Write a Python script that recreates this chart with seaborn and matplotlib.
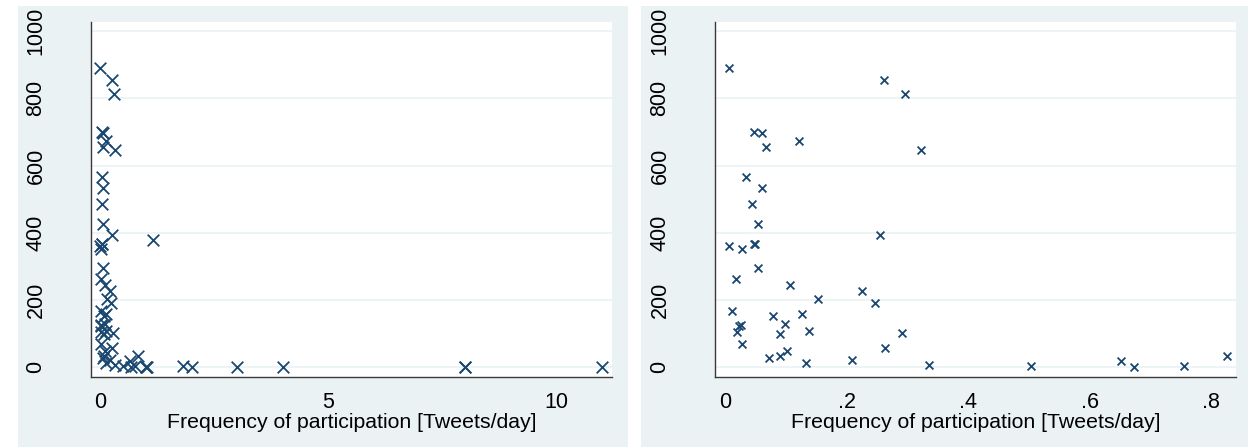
import matplotlib
matplotlib.use("Agg")
import numpy as np
import pandas as pd
import seaborn as sns
import matplotlib.pyplot as plt
from matplotlib.patches import Rectangle
from matplotlib.ticker import FixedLocator, FixedFormatter

# Frequency of participation [Tweets/day] and the plotted value (same observations in both panels;
# the right panel shows only the observations with frequency below 1)
freq = [0.0066, 0.262, 0.2955, 0.0477, 0.0614, 0.068, 0.1217, 0.322, 0.0345, 0.0614,
        0.045, 0.0537, 0.0071, 0.028, 0.048, 0.049, 0.0537, 0.2555, 0.018, 0.1064,
        0.1535, 0.2258, 0.2473, 0.011, 0.0795, 0.127, 0.0236, 0.026, 0.019, 0.098,
        0.091, 0.1387, 0.2906, 0.0285, 0.264, 0.0718, 0.091, 0.1025, 0.134, 0.209,
        0.336, 0.503, 0.652, 0.672, 0.755, 0.825,
        1.155, 1.0, 1.0, 1.02, 1.81, 2.02, 3.0, 4.0, 8.0, 8.0, 11.0]
value = [890, 853, 814, 700, 696, 656, 674, 646, 566, 533,
         486, 425, 360, 353, 366, 368, 295, 393, 262, 246,
         202, 228, 190, 166, 151, 157, 122, 126, 105, 130,
         98, 107, 103, 69, 57, 29, 32, 48, 14, 23,
         6, 3, 18, 2, 3, 32,
         380, 0, 2, 0, 4, 0, 0, 0, 0, 1, 1]

left_xticks = [0, 5, 10]
left_xlabels = ["0", "5", "10"]
right_xticks = [0, 0.2, 0.4, 0.6, 0.8]
right_xlabels = ["0", ".2", ".4", ".6", ".8"]
yticks = [0, 200, 400, 600, 800, 1000]
ylabels = ["0", "200", "400", "600", "800", "1000"]
xlabel = "Frequency of participation [Tweets/day]"

sns.set_theme(style="white")
plt.rcParams["font.family"] = ["Liberation Sans", "DejaVu Sans"]

df = pd.DataFrame({"freq": freq, "value": value})
df_small = df[df["freq"] < 1]

W, H = 1248, 447
fig = plt.figure(figsize=(W / 100, H / 100), dpi=100)
fig.patch.set_facecolor("white")

BG = "#EAF2F3"
MARK = "#1A476F"


def frac_box(x0, y0, x1, y1):
    return [x0 / W, 1 - y1 / H, (x1 - x0) / W, (y1 - y0) / H]


# panel backgrounds
fig.patches.append(Rectangle((18 / W, 0), (628 - 18) / W, (H - 6) / H,
                             transform=fig.transFigure, facecolor=BG, edgecolor="none", zorder=-10))
fig.patches.append(Rectangle((641 / W, 0), (W - 641) / W, (H - 6) / H,
                             transform=fig.transFigure, facecolor=BG, edgecolor="none", zorder=-10))

axL = fig.add_axes(frac_box(91, 22, 612, 377))
axR = fig.add_axes(frac_box(715, 22, 1236, 377))

sns.scatterplot(data=df, x="freq", y="value", ax=axL, marker="x", s=70,
                color=MARK, linewidth=1.3, legend=False)
sns.scatterplot(data=df_small, x="freq", y="value", ax=axR, marker="x", s=32,
                color=MARK, linewidth=1.3, legend=False)

for ax, xt, xl, xlim in [(axL, left_xticks, left_xlabels, (-0.2, 11.22)),
                         (axR, right_xticks, right_xlabels, (-0.0164, 0.8405))]:
    ax.set_facecolor("white")
    ax.set_xlim(*xlim)
    ax.set_ylim(-29, 1027)
    ax.xaxis.set_major_locator(FixedLocator(xt))
    ax.xaxis.set_major_formatter(FixedFormatter(xl))
    ax.yaxis.set_major_locator(FixedLocator(yticks))
    ax.yaxis.set_major_formatter(FixedFormatter(ylabels))
    for yv in yticks:
        ax.axhline(yv, color=BG, lw=1.2, zorder=0)
    for s in ["top", "right"]:
        ax.spines[s].set_visible(False)
    for s in ["left", "bottom"]:
        ax.spines[s].set_color("#3a3a3a")
        ax.spines[s].set_linewidth(1.0)
    ax.tick_params(axis="both", which="major", direction="out", length=4, width=1.0,
                   color="#3a3a3a", labelsize=15.5, labelcolor="black")
    ax.tick_params(axis="y", pad=28)
    ax.tick_params(axis="x", pad=7)
    for lab in ax.get_yticklabels():
        lab.set_rotation(90)
        lab.set_va("center")
    ax.set_xlabel(xlabel, fontsize=15.3, labelpad=0, color="black")
    ax.set_ylabel("")

fig.savefig("out.png", dpi=100, facecolor="white")
